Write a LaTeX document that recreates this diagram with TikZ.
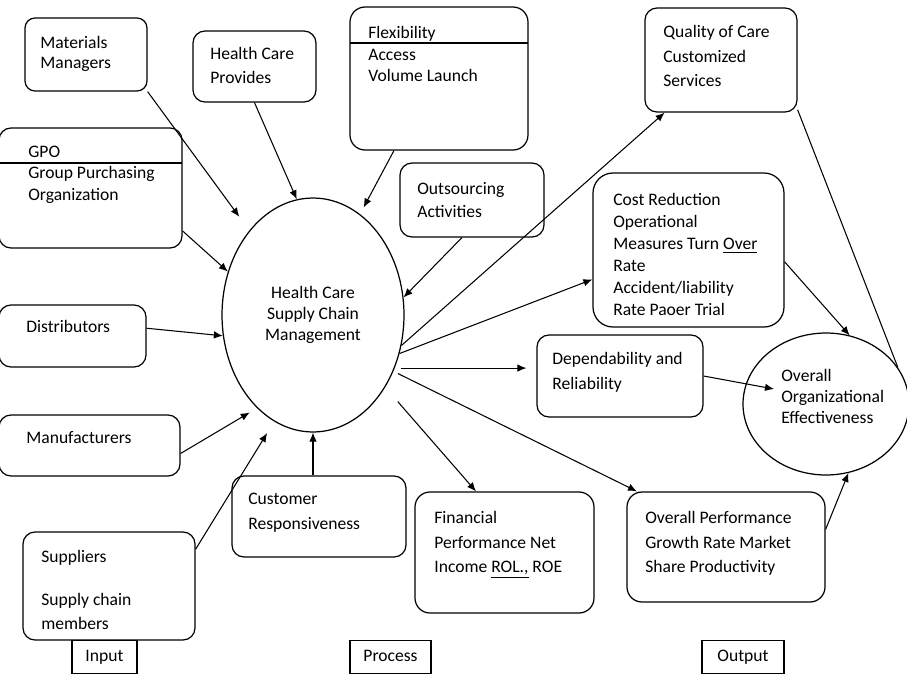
\documentclass[tikz,border=0pt]{standalone}
\usepackage{fontspec}
\setmainfont{Carlito}
\usetikzlibrary{arrows.meta, shapes.geometric, fit}

\newcommand{\spellmark}[1]{\underline{#1}}

\tikzset{
  box/.style={draw, line width=0.7pt, rounded corners=0.24cm, inner sep=0pt},
  txt/.style={anchor=north west, yshift=6.2pt, inner sep=0pt, align=left,
    font=\fontsize{10pt}{#1}\selectfont, execute at begin node={\rule{0pt}{9pt}}},
  txt/.default=12.5pt,
  oneline/.style={yshift=2.8pt},
  tag/.style={draw, line width=0.7pt, inner sep=0pt, minimum height=0.66cm,
    text height=6.5pt, text depth=1.5pt, font=\fontsize{10pt}{12pt}\selectfont},
  arr/.style={line width=0.6pt, -{Latex[length=1.8mm, width=1.5mm]}},
}

\begin{document}
\begin{tikzpicture}[x=0.02cm, y=-0.02cm]
\useasboundingbox (0,0) rectangle (907,674);
\clip (0,0) rectangle (907,674);

% Hub in the middle
\node[draw, ellipse, line width=0.7pt, minimum width=3.64cm, minimum height=4.68cm, inner sep=0pt,
  align=center, font=\fontsize{10pt}{12pt}\selectfont] (hcsc) at (313,315) {Health Care\\Supply Chain\\Management};

% Input boxes on the left
\node[box, rounded corners=0.2cm, fit={(25,18) (147,91)}] (mat) {};
\node[txt=11.4pt] (matT) at (40,47) {Materials\\Managers};
\node[box, fit={(193,31) (316,102)}] (hcp) {};
\node[txt=13.7pt] (hcpT) at (210,58) {Health Care\\Provides};
\node[box, fit={(-1,128) (182,248)}] (gpo) {};
\draw[line width=0.7pt] (-1,163) -- (182,163);
\node[txt=12pt] (gpoT) at (28,157) {GPO\\Group Purchasing\\Organization};
\node[box, fit={(-1,305) (146,367)}] (dist) {};
\node[txt, oneline] (distT) at (26,332) {Distributors};
\node[box, fit={(-1,415) (180,476)}] (manu) {};
\node[txt, oneline] (manuT) at (26,443) {Manufacturers};
\node[box, fit={(23,532) (195,640)}] (supp) {};
\node[txt=13.7pt] (suppT) at (41,561) {Suppliers\\[0.38cm]Supply chain\\members};

% Process boxes
\node[box, rounded corners=0.3cm, fit={(350,7) (528,150)}] (flex) {};
\draw[line width=0.7pt] (350,43) -- (528,43);
\node[txt=12.2pt] (flexT) at (368,37) {Flexibility\\Access\\Volume Launch};
\node[box, fit={(400,163) (544,237)}] (outs) {};
\node[txt=13.1pt] (outsT) at (417,193) {Outsourcing\\Activities};
\node[box, fit={(232,476) (406,557)}] (cust) {};
\node[txt=14.2pt] (custT) at (248,504) {Customer\\Responsiveness};

% Output boxes on the right
\node[box, fit={(645,8) (797,112)}] (qual) {};
\node[txt=13.9pt] (qualT) at (663,36) {Quality of Care\\Customized\\Services};
\node[box, rounded corners=0.4cm, fit={(593,173) (784,327)}] (cost) {};
\node[txt=12.5pt] (costT) at (613,204) {Cost Reduction\\Operational\\Measures Turn \spellmark{Over}\\Rate\\Accident/liability\\Rate Paoer Trial};
\node[box, fit={(537,335) (703,417)}] (dep) {};
\node[txt=14.2pt] (depT) at (552,363) {Dependability and\\Reliability};
\node[box, rounded corners=0.3cm, fit={(415,492) (594,613)}] (fin) {};
\node[txt=13.9pt] (finT) at (434,522) {Financial\\Performance Net\\Income \spellmark{ROL.,} ROE};
\node[box, rounded corners=0.3cm, fit={(627,492) (825,602)}] (perf) {};
\node[txt=13.9pt] (perfT) at (645,522) {Overall Performance\\Growth Rate Market\\Share Productivity};
\node[draw, ellipse, line width=0.7pt, minimum width=3.32cm, minimum height=2.84cm] (eff) at (826,404) {};
\node[txt=12pt] (effT) at (781,380) {Overall\\Organizational\\Effectiveness};

% Stage tags
\node[tag, minimum width=1.3cm] (input) at (104.5,657) {Input};
\node[tag, minimum width=1.62cm] (process) at (390.5,657) {Process};
\node[tag, minimum width=1.64cm] (output) at (743,657) {Output};

% Arrows into the hub
\draw[arr, shorten >=0.34cm] (mat.south east) -- (hcsc.127);
\draw[arr] (hcp.south) -- (hcsc.98);
\draw[arr, shorten >=0.15cm] (flex.-122) -- (hcsc.65);
\draw[arr] (gpo.-25) -- (hcsc.153);
\draw[arr] (outs.-105) -- (hcsc.11);
\draw[arr] (dist.6) -- (hcsc.193);
\draw[arr, shorten >=0.17cm] (manu.-5) -- (hcsc.239);
\draw[arr, shorten >=0.27cm] (supp.23) -- (hcsc.250);
\draw[arr] (hcsc.south |- cust.north) -- (hcsc.south);

% Arrows out of the hub
\draw[arr] (hcsc.-19) -- (qual.223);
\draw[arr] (hcsc.-24) -- (cost.197);
\draw[arr, shorten <=0.12cm, shorten >=0.2cm] (hcsc.-33) -- (hcsc.-33 -| dep.west);
\draw[arr, shorten <=0.1cm] (hcsc.-35) -- (perf.148);
\draw[arr, shorten <=0.38cm] (hcsc.-45) -- (fin.115);

% Arrows into the effectiveness
\coordinate (effIn) at ([shift={(-52,-15)}]eff.center);
\draw[arr] (cost.-7) -- (eff.71);
\draw[arr] (dep.east) -- (effIn);
\draw[line width=0.6pt] (qual.-33) -- (eff.27);
\draw[arr] (perf.10) -- (eff.-72);
\end{tikzpicture}
\end{document}
